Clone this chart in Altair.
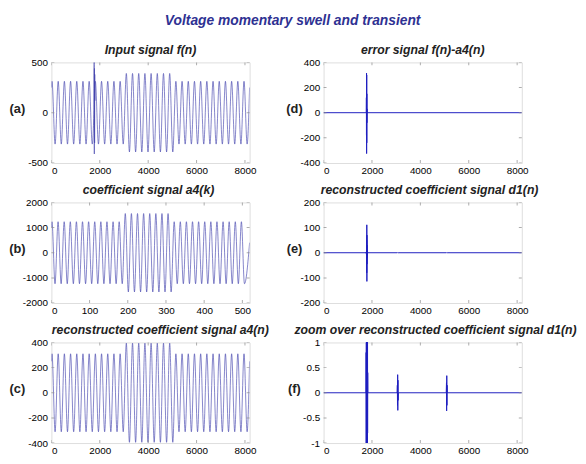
import altair as alt
import pandas as pd

W, H = 201, 102
FONT = "Liberation Sans"

# ---------------- data ----------------
# sine signals are described by their successive extremes (peak, trough, ...)
FIRST_EXT_N = 25        # sample index of the first peak
HALF_PERIOD_N = 128     # samples between a peak and the next trough
FIRST_EXT_K = 1.5       # same for the a4(k) coefficients (16x decimated)
HALF_PERIOD_K = 8

# (a) input signal f(n): extremes
a_ext = [
    312, -312, 312, -312, 312, -312, 312, -312, 312, -312, 312, -312,
    312, -312, 312, -312, 312, -312, 312, -312, 312, -312, 312, -312,
    390, -390, 390, -390, 390, -390, 390, -390, 390, -390, 390, -390,
    390, -390, 390, -390,
    312, -312, 312, -312, 312, -312, 312, -312, 312, -312, 312, -312,
    312, -312, 312, -312, 312, -312, 312, -312, 312, -312, 312, -312,
]
a_start, a_end = 250, 250
a_tr_n = [1756, 1768, 1774, 1780, 1786, 1792, 1798, 1806]
a_tr_v = [20, 520, -410, 440, -300, 380, 120, 300]

# (b) coefficient signal a4(k): extremes
b_ext = [
    1233, -1233, 1233, -1233, 1233, -1233, 1233, -1233, 1233, -1233, 1233, -1233,
    1233, -1233, 1233, -1233, 1233, -1233, 1233, -1233, 1233, -1233, 1233, -1233,
    1558, -1558, 1558, -1558, 1558, -1558, 1558, -1558, 1558, -1558, 1558, -1558,
    1558, -1558, 1558, -1558,
    1233, -1233, 1233, -1233, 1233, -1233, 1233, -1233, 1233, -1233, 1233, -1233,
    1233, -1233, 1233, -1233, 1233, -1233, 1233, -1233, 1233, -1233, 1233, -1233,
]
b_start, b_end = 1000, 400

# (c) reconstructed a4(n): extremes
c_ext = [
    310, -310, 310, -310, 310, -310, 310, -310, 310, -310, 310, -310,
    310, -310, 310, -310, 310, -310, 310, -310, 310, -310, 310, -310,
    394, -394, 394, -394, 394, -394, 394, -394, 394, -394, 394, -394,
    394, -394, 394, -394,
    310, -310, 310, -310, 310, -310, 310, -310, 310, -310, 310, -310,
    310, -310, 310, -310, 310, -310, 310, -310, 310, -310, 310, -310,
]
c_start, c_end = 250, 250

# (d) error signal f(n)-a4(n)
d_n = [0, 1766, 1770, 1773, 1776, 1779, 1782, 1785, 1788, 1791, 1795, 1800, 8192]
d_v = [0, 0, 120, -180, 315, -325, 300, -240, 150, -80, 30, 0, 0]

# (e)/(f) reconstructed detail d1(n)
e_n = [0, 1756, 1760, 1764, 1768, 1772, 1775, 1778, 1781, 1784, 1787, 1790,
       1793, 1796, 1799, 1802, 1805, 1808, 1811, 1814, 1817, 1820, 1824, 1830,
       3040, 3050, 3056, 3062, 3068, 3074, 3080, 3090,
       5070, 5080, 5086, 5092, 5098, 5104, 5112, 8192]
e_v = [0, 0, 0.8, -1.5, 3, -6, 12, -25, 50, -80, 111, -114,
       70, -45, 30, -18, 10, -6, 3.5, -2, 1.3, -0.8, 0.4, 0,
       0, 0.15, -0.25, 0.36, -0.35, 0.25, -0.15, 0,
       0, 0.2, -0.36, 0.34, -0.25, 0.15, 0, 0]

X_LEN_N = 8192
X_LEN_K = 519
x_ticks_n = [0, 2000, 4000, 6000, 8000]
x_ticks_k = [0, 100, 200, 300, 400, 500]


def wave(ext, first, half, start, end, xmax, extra_n=(), extra_v=()):
    n = [0] + [first + half * h for h in range(len(ext))] + [xmax]
    v = [start] + list(ext) + [end]
    df = pd.DataFrame({"n": n + list(extra_n), "v": v + list(extra_v)})
    return df.sort_values("n").reset_index(drop=True)


df_a = wave(a_ext, FIRST_EXT_N, HALF_PERIOD_N, a_start, a_end, X_LEN_N - 1, a_tr_n, a_tr_v)
df_b = wave(b_ext, FIRST_EXT_K, HALF_PERIOD_K, b_start, b_end, X_LEN_K)
df_c = wave(c_ext, FIRST_EXT_N, HALF_PERIOD_N, c_start, c_end, X_LEN_N - 1)
df_d = pd.DataFrame({"n": d_n, "v": d_v})
df_e = pd.DataFrame({"n": e_n, "v": e_v})

LBL = "'' + datum.value"
TICK = "#8a8a8a"


def panel(df, xlen, xvals, ydom, yvals, title, tag, tagx, dx, color, sw, interp):
    xs = alt.Scale(domain=[0, xlen], nice=False, zero=False)
    ys = alt.Scale(domain=ydom, nice=False, zero=False)
    xax = alt.Axis(orient="bottom", values=xvals, labelExpr=LBL, ticks=True, tickSize=0,
                   domain=False, grid=False, title=None, labelPadding=3)
    yax = alt.Axis(orient="left", values=yvals, labelExpr=LBL, ticks=True, tickSize=0,
                   domain=False, grid=False, title=tag, titleAngle=0, titleX=tagx,
                   titleY=47, titleAlign="center", titleBaseline="middle",
                   titleFontSize=13, titleFontWeight="bold", titleColor="#222",
                   titleFont=FONT, labelPadding=4)

    main = alt.Chart(df).mark_line(color=color, strokeWidth=sw, clip=True,
                                   interpolate=interp).encode(
        x=alt.X("n:Q", scale=xs, axis=xax),
        y=alt.Y("v:Q", scale=ys, axis=yax),
    )
    # inward tick marks on all four sides (MATLAB style), clipped to the frame
    xt = alt.Chart(pd.DataFrame({"n": xvals}))
    yt = alt.Chart(pd.DataFrame({"v": yvals}))
    tk = dict(size=6, thickness=1, color=TICK, clip=True)
    x_top = xt.mark_tick(orient="vertical", **tk).encode(
        x=alt.X("n:Q", scale=xs, axis=xax), y=alt.YDatum(ydom[1], scale=ys, axis=yax))
    x_bot = xt.mark_tick(orient="vertical", **tk).encode(
        x=alt.X("n:Q", scale=xs, axis=xax), y=alt.YDatum(ydom[0], scale=ys, axis=yax))
    y_left = yt.mark_tick(orient="horizontal", **tk).encode(
        y=alt.Y("v:Q", scale=ys, axis=yax), x=alt.XDatum(0, scale=xs, axis=xax))
    y_right = yt.mark_tick(orient="horizontal", **tk).encode(
        y=alt.Y("v:Q", scale=ys, axis=yax), x=alt.XDatum(xlen, scale=xs, axis=xax))

    return alt.layer(main, x_top, x_bot, y_left, y_right).properties(
        width=W, height=H,
        title=alt.TitleParams(title, fontSize=12.4, fontStyle="italic", fontWeight="bold",
                              font=FONT, color="#222", offset=1, anchor="middle", dx=dx),
    )


SINE = "#4343ad"
SPIKE = "#2020c0"

pa = panel(df_a, X_LEN_N, x_ticks_n, [-500, 500], [-500, 0, 500],
           "Input signal f(n)", "(a)", -35, 0, SINE, 0.65, "monotone")
pb = panel(df_b, X_LEN_K, x_ticks_k, [-2000, 2000], [-2000, -1000, 0, 1000, 2000],
           "coefficient signal a4(k)", "(b)", -35, -2, SINE, 0.65, "monotone")
pc = panel(df_c, X_LEN_N, x_ticks_n, [-400, 400], [-400, -200, 0, 200, 400],
           "reconstructed coefficient signal a4(n)", "(c)", -35, 10, SINE, 0.65, "monotone")
pd_ = panel(df_d, X_LEN_N, x_ticks_n, [-400, 400], [-400, -200, 0, 200, 400],
            "error signal f(n)-a4(n)", "(d)", -30, 0, SPIKE, 1, "linear")
pe = panel(df_e, X_LEN_N, x_ticks_n, [-200, 200], [-200, -100, 0, 100, 200],
           "reconstructed coefficient signal d1(n)", "(e)", -30, 7, SPIKE, 1, "linear")
pf = panel(df_e, X_LEN_N, x_ticks_n, [-1, 1], [-1, -0.5, 0, 0.5, 1],
           "zoom over reconstructed coefficient signal d1(n)", "(f)", -30, 13, SPIKE, 1, "linear")

chart = alt.concat(pa, pd_, pb, pe, pc, pf, columns=2, spacing={"row": 40, "column": 75},
                   bounds="flush").properties(
    title=alt.TitleParams("Voltage momentary swell and transient", fontSize=14,
                          fontStyle="italic", fontWeight="bold", font=FONT,
                          color="#2e3192", anchor="middle", offset=16),
    padding={"left": 0, "top": 3, "right": 0, "bottom": 0},
).configure_view(stroke="#999999", strokeWidth=1).configure_axis(
    labelFont=FONT, labelFontSize=10, labelColor="#333333"
).configure(background="white")

chart.save("out.html", embed_options={"renderer": "svg", "actions": False})
